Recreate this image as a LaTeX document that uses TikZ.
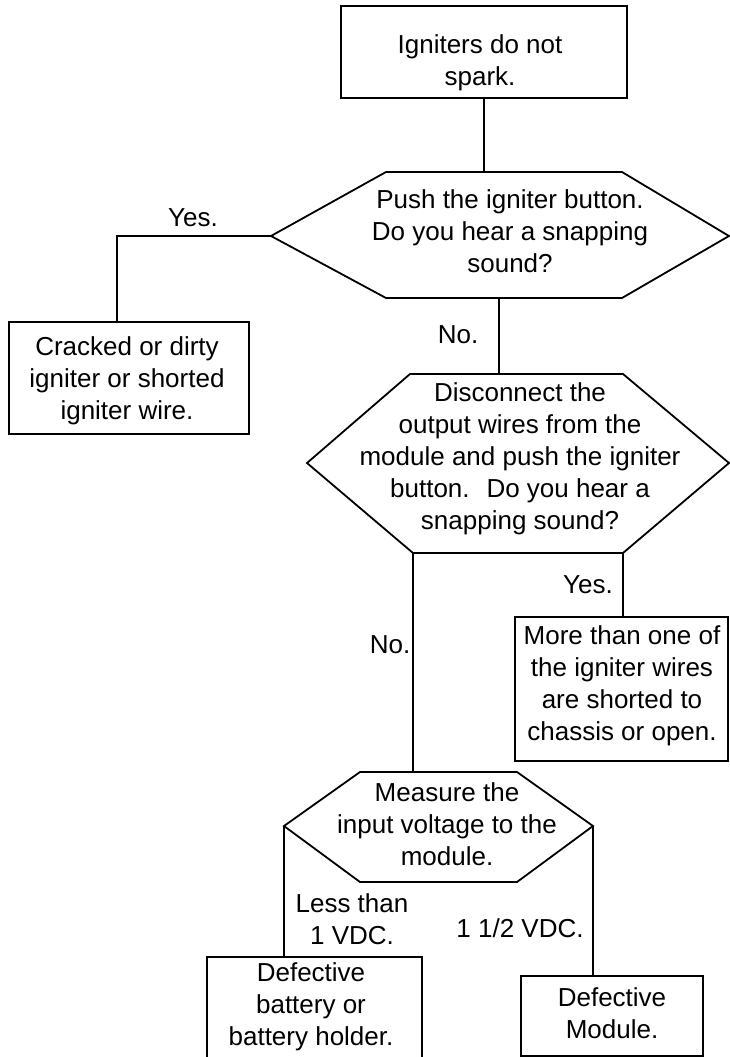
\documentclass[tikz,border=0pt]{standalone}
\usepackage{fontspec}
\setmainfont{Liberation Sans}
\begin{document}
\begin{tikzpicture}[x=1pt,y=-1pt,line width=1.8pt,
  txt/.style={align=center,inner sep=0pt,font=\fontsize{26}{32}\selectfont},
  box/.style={draw=black,rectangle,inner sep=0pt},
  hexa/.style={draw=black,line join=miter},
  conn/.style={draw=black}]
\useasboundingbox (0,0) rectangle (730,1057);

% boxes
\node[box,minimum width=286pt,minimum height=92pt] (start) at (484,52) {};
\node[box,minimum width=240pt,minimum height=112pt] (crack) at (129,378) {};
\node[box,minimum width=213pt,minimum height=144pt] (more) at (621.5,689) {};
\node[box,minimum width=215pt,minimum height=130pt] (batt) at (314.5,1022) {};
\node[box,minimum width=182pt,minimum height=80pt] (modb) at (612,1016) {};

% hexagons
\draw[hexa] (386,172) -- (622,172) -- (729,236) coordinate (h1e) -- (622,298)
  -- (386,298) -- (271,236) coordinate (h1w) -- cycle;
\draw[hexa] (410,374) -- (623,374) -- (729,463) coordinate (h2e) -- (623,553) coordinate (h2se)
  -- (413,553) coordinate (h2sw) -- (307,463) coordinate (h2w) -- cycle;
\draw[hexa] (360,772) -- (517,772) -- (593,826) coordinate (h3e) -- (517,882)
  -- (360,882) -- (284,826) coordinate (h3w) -- cycle;

% connection points
\coordinate (h1n) at (484,172);
\coordinate (h1s) at (499,298);
\coordinate (h2n) at (499,374);
\coordinate (h3n) at (413,772);
\coordinate (crackin) at (117,322);
\coordinate (morein) at (623,617);
\coordinate (battin) at (284,957);
\coordinate (modin) at (593,976);

% texts
\node[txt] (tstart) at (480,63) {Igniters do not\\spark.};
\node[txt] (th1) at (510,231) {Push the igniter button.\\Do you hear a snapping\\sound?};
\node[txt] (tcrack) at (127,381) {Cracked or dirty\\igniter or shorted\\igniter wire.};
\node[txt] (th2) at (520,459) {Disconnect the\\output wires from the\\module and push the igniter\\button.~ Do you hear a\\snapping sound?};
\node[txt] (tmore) at (622,686) {More than one of\\the igniter wires\\are shorted to\\chassis or open.};
\node[txt] (th3) at (447,824) {Measure the\\input voltage to the\\module.};
\node[txt] (tbatt) at (311,1007) {Defective\\battery or\\battery holder.};
\node[txt] (tmod) at (612,1013) {Defective\\Module.};

% labels
\node[txt] (l1) at (193,218) {Yes.};
\node[txt] (l2) at (458,335) {No.};
\node[txt] (l3) at (588,585) {Yes.};
\node[txt] (l4) at (390,645) {No.};
\node[txt] (l5) at (352,919) {Less than\\1 VDC.};
\node[txt] (l6) at (520,928) {1 1/2 VDC.};

% connectors
\draw[conn] (start.south) -- (h1n);
\draw[conn] (h1w) -| (crackin);
\draw[conn] (h1s) -- (h2n);
\draw[conn] (h2se) -- (morein);
\draw[conn] (h2sw) -- (h3n);
\draw[conn] (h3w) -- (battin);
\draw[conn] (h3e) -- (modin);
\end{tikzpicture}
\end{document}
